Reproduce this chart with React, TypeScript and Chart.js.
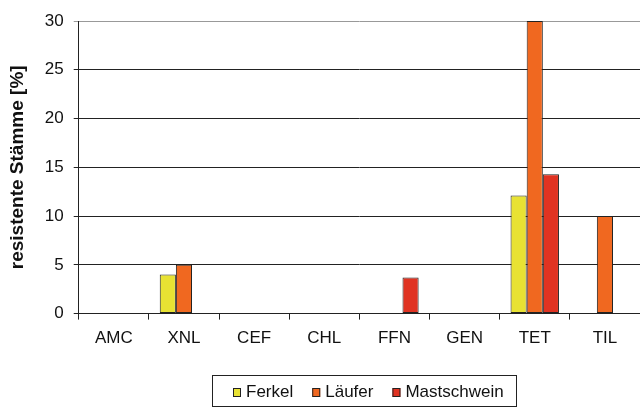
import React, { useEffect, useRef } from "react";
import { Chart, registerables } from "chart.js";

Chart.register(...registerables);

const categories = ["AMC", "XNL", "CEF", "CHL", "FFN", "GEN", "TET", "TIL"];
const ferkel = [0, 4, 0, 0, 0, 0, 12.1, 0];
const laeufer = [0, 5, 0, 0, 0, 0, 30, 10];
const mastschwein = [0, 0, 0, 0, 3.7, 0, 14.3, 0];
const seriesNames = ["Ferkel", "Läufer", "Mastschwein"];
const seriesColors = ["#E8E233", "#F06820", "#E03322"];
const yTitle = "resistente Stämme [%]";

const FONT = "'Liberation Sans', Arial, sans-serif";

const customLegend = {
  id: "customLegend",
  afterDraw(chart: any) {
    const ctx = chart.ctx;
    ctx.save();
    ctx.font = `17px ${FONT}`;
    ctx.textBaseline = "middle";
    ctx.textAlign = "left";
    const boxW = 8, boxH = 9, gapText = 5, gapItem = 19;
    const frameL = 212, frameR = 516, frameT = 375, frameB = 406;
    const cy = (frameT + frameB) / 2 + 2;
    let x = 233;
    chart.data.datasets.forEach((ds: any) => {
      ctx.fillStyle = ds.backgroundColor;
      ctx.fillRect(x, cy - boxH / 2, boxW, boxH);
      ctx.strokeStyle = "#222";
      ctx.lineWidth = 1;
      ctx.strokeRect(x + 0.5, Math.round(cy - boxH / 2) + 0.5, boxW - 1, boxH - 1);
      ctx.fillStyle = "#111";
      ctx.fillText(ds.label, x + boxW + gapText, cy);
      x += boxW + gapText + ctx.measureText(ds.label).width + gapItem;
    });
    ctx.strokeStyle = "#222";
    ctx.lineWidth = 1;
    ctx.strokeRect(frameL + 0.5, frameT + 0.5, frameR - frameL, frameB - frameT);
    ctx.restore();
  },
};

export default function App() {
  const ref = useRef<HTMLCanvasElement>(null);
  useEffect(() => {
    document.body.style.margin = "0";
    const c = new Chart(ref.current!, {
      type: "bar",
      data: {
        labels: categories,
        datasets: [
          { label: seriesNames[0], data: ferkel, backgroundColor: seriesColors[0], borderColor: "#222", borderWidth: 1, borderSkipped: false },
          { label: seriesNames[1], data: laeufer, backgroundColor: seriesColors[1], borderColor: "#222", borderWidth: 1, borderSkipped: false },
          { label: seriesNames[2], data: mastschwein, backgroundColor: seriesColors[2], borderColor: "#222", borderWidth: 1, borderSkipped: false },
        ],
      },
      options: {
        animation: false,
        responsive: false,
        maintainAspectRatio: false,
        layout: { padding: { left: 2, right: 0, top: 21, bottom: 51 } },
        datasets: { bar: { categoryPercentage: 0.69, barPercentage: 1 } },
        plugins: {
          tooltip: { enabled: false },
          legend: { display: false },
        },
        scales: {
          x: {
            grid: { offset: true, drawOnChartArea: false, drawTicks: true, tickLength: 6, color: "#222" },
            border: { color: "#222", width: 1 },
            ticks: { color: "#111", padding: 9, font: { family: FONT, size: 17 } },
          },
          y: {
            min: 0,
            max: 30,
            ticks: { stepSize: 5, color: "#111", padding: 10, font: { family: FONT, size: 17 } },
            grid: {
              color: (ctx: any) => (ctx.tick && ctx.tick.value === 30 ? "#999" : "#222"),
              tickLength: 5,
            },
            border: { color: "#222", width: 1 },
            title: {
              display: true,
              text: yTitle,
              color: "#111",
              font: { family: FONT, size: 19, weight: "bold" },
              padding: { top: 4, bottom: 6 },
            },
          },
        },
      },
      plugins: [customLegend],
    });
    return () => c.destroy();
  }, []);
  return <canvas ref={ref} width={640} height={409} style={{ display: "block" }} />;
}
